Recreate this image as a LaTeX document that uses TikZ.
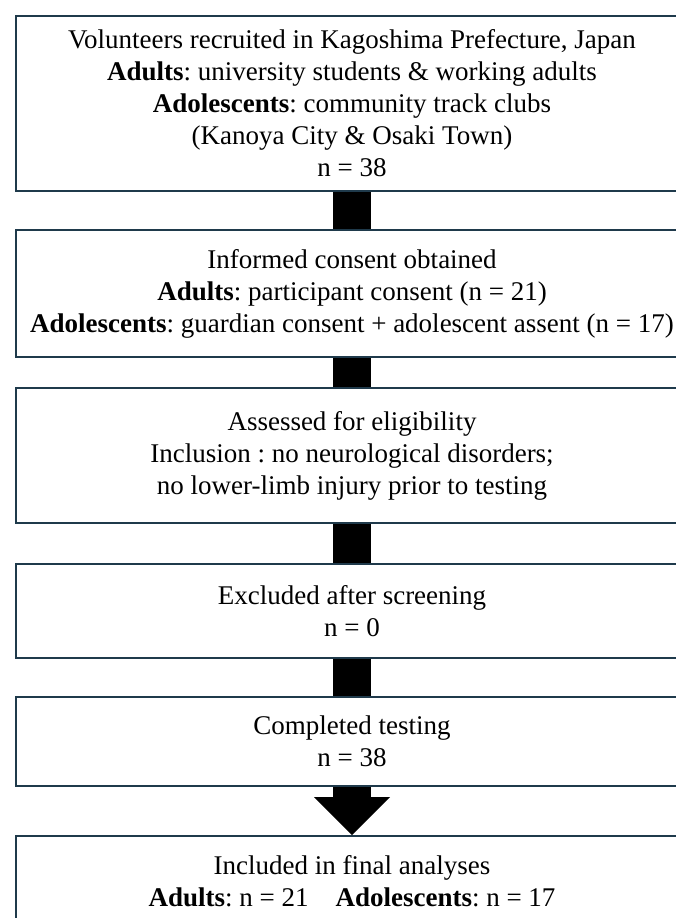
\documentclass[tikz,border=0pt]{standalone}
\usepackage{fontspec}
\setmainfont{Liberation Serif}
\usetikzlibrary{positioning,arrows.meta}
\definecolor{boxline}{HTML}{1F3A4B}
\frenchspacing

\begin{document}
\begin{tikzpicture}[x=1pt, y=1pt, font=\fontsize{27}{32}\selectfont,
  box/.style={draw=boxline, line width=2pt, align=center, minimum width=672pt, inner sep=0pt},
  link/.style={line width=38pt}]
  \useasboundingbox (0,0) rectangle (676,-918);
  \node[box, minimum height=175pt] (recruit) at (352,-103.5)
    {Volunteers recruited in Kagoshima Prefecture, Japan\\
     \textbf{Adults}: university students \& working adults\\
     \textbf{Adolescents}: community track clubs\\
     (Kanoya City \& Osaki Town)\\
     n = 38};
  \node[box, minimum height=127pt, below=37pt of recruit] (consent)
    {Informed consent obtained\\
     \textbf{Adults}: participant consent (n = 21)\\
     \textbf{Adolescents}: guardian consent + adolescent assent (n = 17)};
  \node[box, minimum height=135pt, below=29pt of consent] (elig)
    {Assessed for eligibility\\
     Inclusion : no neurological disorders;\\
     no lower-limb injury prior to testing};
  \node[box, minimum height=94pt, below=39pt of elig] (excl)
    {Excluded after screening\\ n = 0};
  \node[box, minimum height=89pt, below=37pt of excl] (tested)
    {Completed testing\\ n = 38};
  \node[box, minimum height=90pt, below=48pt of tested] (final)
    {Included in final analyses\\
     \textbf{Adults}: n = 21\quad\textbf{Adolescents}: n = 17};
  \draw[link] (recruit) -- (consent);
  \draw[link] (consent) -- (elig);
  \draw[link] (elig) -- (excl);
  \draw[link] (excl) -- (tested);
  \draw[link, -{Triangle[length=38pt, width=76pt, line width=0pt]}] (tested) -- (final);
\end{tikzpicture}
\end{document}
